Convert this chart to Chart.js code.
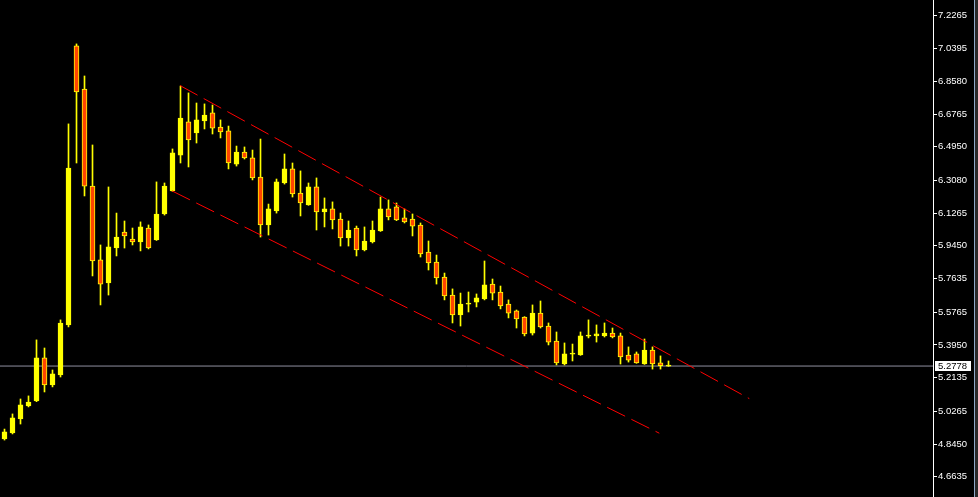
<!DOCTYPE html>
<html>
<head>
<meta charset="utf-8">
<script src="https://cdn.jsdelivr.net/npm/chart.js@4.4.1/dist/chart.umd.min.js"></script>
<style>
  html, body { margin: 0; padding: 0; background: #000; overflow: hidden; }
  canvas { display: block; }
</style>
</head>
<body>
<canvas id="chart" width="978" height="497"></canvas>
<script>
// ─── Candle data ──────────────────────────────────────────────────
const opens = [
    4.873, 4.906, 4.984, 5.056, 5.084, 5.323, 5.173, 5.228, 5.506, 7.055,
    6.816, 6.277, 5.867, 5.739, 5.933, 6.022, 5.983, 5.967, 6.044, 5.978,
    6.122, 6.250, 6.449, 6.633, 6.572, 6.638, 6.683, 6.605, 6.583, 6.399,
    6.466, 6.433, 6.327, 6.061, 6.139, 6.294, 6.372, 6.238, 6.172, 6.272,
    6.133, 6.150, 6.094, 5.989, 6.044, 5.922, 5.967, 6.028, 6.150, 6.161,
    6.100, 6.094, 6.061, 5.911, 5.855, 5.772, 5.672, 5.561, 5.622, 5.633,
    5.650, 5.733, 5.689, 5.622, 5.584, 5.550, 5.461, 5.572, 5.500, 5.417,
    5.289, 5.344, 5.339, 5.444, 5.445, 5.445, 5.461, 5.445, 5.339, 5.345,
    5.289, 5.367, 5.295, 5.277,
];
const highs = [
    4.928, 5.012, 5.095, 5.112, 5.423, 5.378, 5.256, 5.534, 6.622, 7.066,
    6.888, 6.505, 5.950, 6.272, 6.127, 6.083, 6.044, 6.078, 6.061, 6.300,
    6.294, 6.483, 6.832, 6.794, 6.738, 6.733, 6.727, 6.644, 6.610, 6.499,
    6.494, 6.477, 6.538, 6.177, 6.316, 6.455, 6.405, 6.361, 6.294, 6.322,
    6.211, 6.189, 6.127, 6.083, 6.055, 6.050, 6.083, 6.216, 6.200, 6.183,
    6.150, 6.122, 6.072, 5.972, 5.894, 5.794, 5.706, 5.683, 5.689, 5.678,
    5.861, 5.761, 5.722, 5.645, 5.589, 5.552, 5.617, 5.639, 5.517, 5.467,
    5.406, 5.400, 5.467, 5.534, 5.506, 5.517, 5.489, 5.461, 5.384, 5.356,
    5.428, 5.384, 5.334, 5.306,
];
const lows = [
    4.867, 4.901, 4.956, 5.051, 5.080, 5.134, 5.162, 5.217, 5.495, 6.405,
    6.222, 5.778, 5.617, 5.672, 5.889, 5.933, 5.950, 5.917, 5.928, 5.975,
    6.116, 6.247, 6.405, 6.383, 6.516, 6.594, 6.566, 6.544, 6.372, 6.388,
    6.427, 6.311, 5.994, 6.005, 6.127, 6.288, 6.216, 6.111, 6.170, 6.033,
    6.050, 6.039, 5.944, 5.944, 5.889, 5.917, 5.961, 6.025, 6.089, 6.085,
    6.072, 6.000, 5.883, 5.811, 5.733, 5.645, 5.517, 5.500, 5.578, 5.606,
    5.645, 5.645, 5.595, 5.545, 5.489, 5.445, 5.450, 5.489, 5.395, 5.284,
    5.284, 5.306, 5.337, 5.434, 5.411, 5.439, 5.434, 5.289, 5.300, 5.293,
    5.287, 5.261, 5.261, 5.276,
];
const closes = [
    4.912, 4.990, 5.062, 5.078, 5.323, 5.173, 5.234, 5.517, 6.377, 6.799,
    6.277, 5.861, 5.733, 5.939, 5.994, 6.000, 5.967, 6.050, 5.933, 6.122,
    6.277, 6.461, 6.655, 6.533, 6.644, 6.671, 6.599, 6.577, 6.405, 6.466,
    6.433, 6.322, 6.061, 6.150, 6.300, 6.372, 6.233, 6.183, 6.272, 6.133,
    6.150, 6.089, 5.989, 6.033, 5.922, 5.972, 6.033, 6.150, 6.105, 6.089,
    6.078, 6.055, 5.900, 5.850, 5.767, 5.667, 5.561, 5.622, 5.623, 5.656,
    5.728, 5.683, 5.611, 5.572, 5.539, 5.456, 5.572, 5.495, 5.411, 5.295,
    5.345, 5.345, 5.445, 5.445, 5.456, 5.461, 5.439, 5.328, 5.311, 5.295,
    5.367, 5.289, 5.280, 5.2778,
];

// price scale labels on the right
const priceTicks = [
    7.2265, 7.0395, 6.8580, 6.6765, 6.4950, 6.3080, 6.1265, 5.9450,
    5.7635, 5.5765, 5.3950, 5.2135, 5.0265, 4.8450, 4.6635,
];

// channel lines: [bar index, price] for each end
const upperTrend = [[21.94, 6.835], [93.10, 5.097]];
const lowerTrend = [[20.94, 6.250], [81.85, 4.905]];

const lastPrice = closes[closes.length - 1];

// ─── Colours ──────────────────────────────────────────────────────
const BULL = '#FFFF00';
const BEAR = '#FF4500';
const WICK = '#FFFF00';
const CHANNEL = '#FF0000';
const PRICE_LINE = '#9090A0';

// visible range (8 px per bar, plot area 933 px wide)
const xMin = -0.5625;
const xMax = xMin + 933 / 8;
const yMin = 4.5509;
const yMax = 7.3098;

const idx = opens.map((_, i) => i);
const bodies = idx.map((i) => ({ x: i, y: [opens[i], closes[i]] }));
const wicks = idx.map((i) => ({ x: i, y: [lows[i], highs[i]] }));
const bodyColors = idx.map((i) => (closes[i] >= opens[i] ? BULL : BEAR));

// ─── Extras: price tag, right frame ───────────────────────────────
const terminalDecor = {
    id: 'terminalDecor',
    afterDraw(chart) {
        const { ctx } = chart;
        const y = Math.round(chart.scales.y.getPixelForValue(lastPrice));
        ctx.save();
        ctx.fillStyle = '#FFFFFF';
        ctx.fillRect(935, y - 5, 36, 10);
        ctx.fillStyle = '#000000';
        ctx.font = "9.5px 'Liberation Sans', Arial, sans-serif";
        ctx.textBaseline = 'middle';
        ctx.textAlign = 'left';
        ctx.fillText(lastPrice.toFixed(4), 938, y + 0.5);
        ctx.fillStyle = '#8FA8C8';
        ctx.fillRect(974, 0, 1, chart.height);
        ctx.fillStyle = '#2A2A2A';
        ctx.fillRect(975, 0, 3, chart.height);
        ctx.restore();
    },
};

new Chart(document.getElementById('chart'), {
    type: 'bar',
    data: {
        datasets: [
            {
                type: 'line',
                data: upperTrend.map(([x, y]) => ({ x, y })),
                borderColor: CHANNEL,
                borderWidth: 1,
                borderDash: [20, 7],
                pointRadius: 0,
                order: 0,
            },
            {
                type: 'line',
                data: lowerTrend.map(([x, y]) => ({ x, y })),
                borderColor: CHANNEL,
                borderWidth: 1,
                borderDash: [20, 7],
                pointRadius: 0,
                order: 0,
            },
            {
                data: bodies,
                backgroundColor: bodyColors,
                borderColor: BULL,
                borderWidth: 1,
                borderSkipped: false,
                barThickness: 5,
                minBarLength: 1,
                grouped: false,
                order: 1,
            },
            {
                data: wicks,
                backgroundColor: WICK,
                borderWidth: 0,
                barThickness: 1,
                grouped: false,
                order: 2,
            },
            {
                type: 'line',
                data: [{ x: xMin, y: lastPrice }, { x: xMax, y: lastPrice }],
                borderColor: PRICE_LINE,
                borderWidth: 1,
                pointRadius: 0,
                order: 3,
            },
        ],
    },
    options: {
        responsive: false,
        animation: false,
        devicePixelRatio: 1,
        layout: { padding: 0 },
        plugins: { legend: { display: false }, tooltip: { enabled: false } },
        scales: {
            x: {
                type: 'linear',
                min: xMin,
                max: xMax,
                offset: false,
                display: false,
            },
            y: {
                type: 'linear',
                position: 'right',
                min: yMin,
                max: yMax,
                beginAtZero: false,
                afterBuildTicks: (s) => { s.ticks = priceTicks.map((v) => ({ value: v })); },
                afterFit: (s) => { s.width = 45; s.paddingTop = 0; s.paddingBottom = 0; },
                border: { color: '#FFFFFF', width: 1 },
                grid: { drawOnChartArea: false, drawTicks: true, tickLength: 4, color: '#FFFFFF' },
                ticks: {
                    color: '#FFFFFF',
                    padding: 1,
                    autoSkip: false,
                    maxRotation: 0,
                    font: { family: "'Liberation Sans', Arial, sans-serif", size: 9.5 },
                    callback: (v) => Number(v).toFixed(4),
                },
            },
        },
    },
    plugins: [terminalDecor],
});
</script>
</body>
</html>
